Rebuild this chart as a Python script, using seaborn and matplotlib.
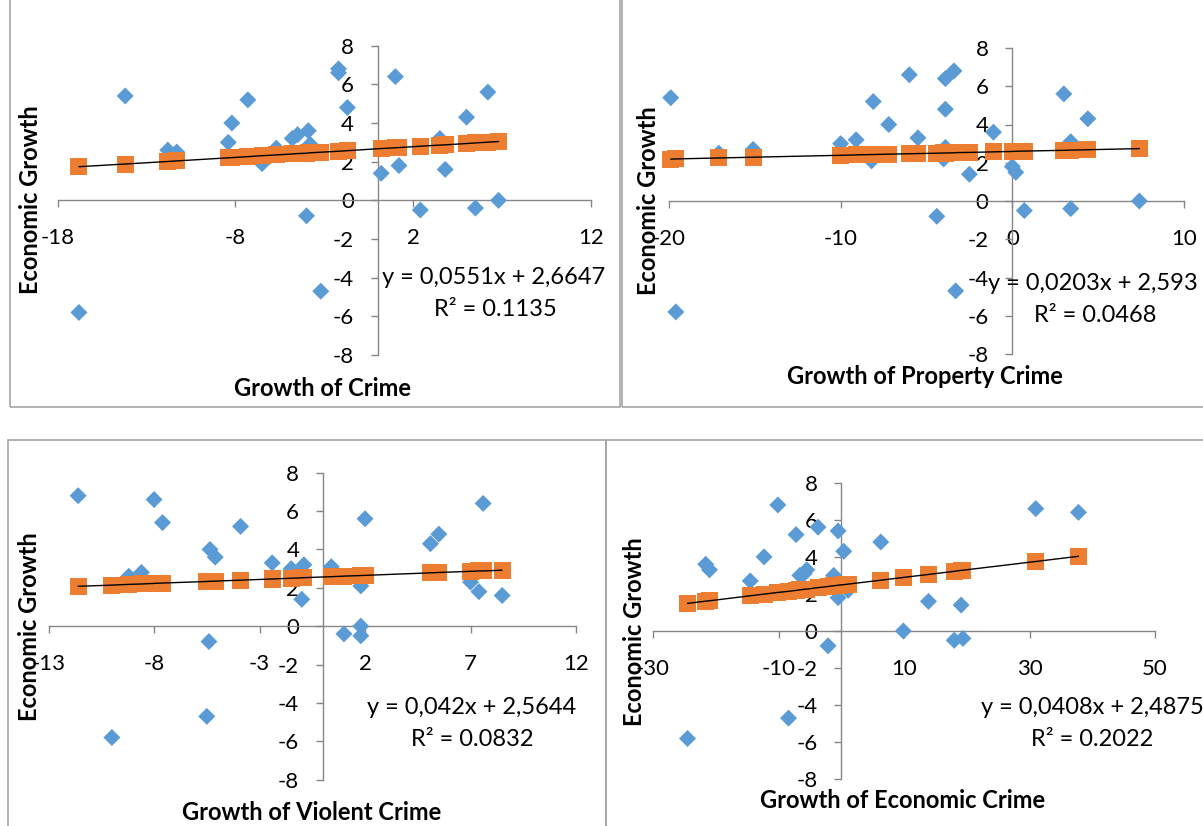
import matplotlib
matplotlib.use('Agg')
import matplotlib.pyplot as plt
import seaborn as sns
from matplotlib.patches import Rectangle

sns.set_theme(style='white')
plt.rcParams['font.family'] = ['Lato', 'DejaVu Sans']

# ---------------- data ----------------
# Panel 1: Growth of Crime
crime_x = [-16.8, -14.2, -11.8, -11.3, -8.4, -8.2, -7.3, -6.5, -5.7, -4.8, -4.5, -3.9, -3.8, -4.0,
           -3.2, -2.2, -2.2, -1.7, 0.2, 1.0, 1.2, 2.4, 3.5, 3.8, 5.0, 5.5, 6.2, 6.8]
crime_y = [-5.8, 5.4, 2.6, 2.5, 3.0, 4.0, 5.2, 1.9, 2.7, 3.2, 3.4, 3.6, 2.9, -0.8,
           -4.7, 6.8, 6.6, 4.8, 1.4, 6.4, 1.8, -0.5, 3.2, 1.6, 4.3, -0.4, 5.6, 0.0]
crime_fit = [1.74, 1.88, 2.01, 2.04, 2.20, 2.21, 2.26, 2.31, 2.35, 2.40, 2.42, 2.45, 2.46, 2.44,
             2.49, 2.54, 2.54, 2.57, 2.68, 2.72, 2.73, 2.80, 2.86, 2.87, 2.94, 2.97, 3.01, 3.04]
crime_ticks = [-18, -8, 2, 12]

# Panel 2: Growth of Property Crime
prop_x = [-19.9, -19.6, -17.1, -15.1, -10.0, -9.1, -8.2, -8.1, -7.2, -6.0, -5.5, -4.4, -4.0, -3.9,
          -3.9, -3.9, -3.4, -3.3, -2.5, -1.1, 0.0, 0.2, 0.7, 3.0, 3.4, 3.4, 4.4, 7.4]
prop_y = [5.4, -5.8, 2.5, 2.7, 3.0, 3.2, 2.1, 5.2, 4.0, 6.6, 3.3, -0.8, 2.2, 2.8,
          4.8, 6.4, 6.8, -4.7, 1.4, 3.6, 1.8, 1.5, -0.5, 5.6, -0.4, 3.1, 4.3, 0.0]
prop_fit = [2.19, 2.20, 2.25, 2.29, 2.39, 2.41, 2.43, 2.43, 2.45, 2.47, 2.48, 2.50, 2.51, 2.51,
            2.51, 2.51, 2.52, 2.53, 2.54, 2.57, 2.59, 2.60, 2.61, 2.65, 2.66, 2.66, 2.68, 2.74]
prop_ticks = [-20, -10, 0, 10]

# Panel 3: Growth of Violent Crime
viol_x = [-11.6, -10.0, -9.2, -8.6, -8.0, -7.6, -5.35, -5.1, -5.4, -5.5, -3.9, -2.4, -1.5, -0.9,
          -1.0, 0.4, 1.0, 1.8, 1.8, 1.8, 2.0, 5.1, 5.5, 7.0, 7.4, 7.6, 8.5]
viol_y = [6.8, -5.8, 2.6, 2.8, 6.6, 5.4, 4.0, 3.6, -0.8, -4.7, 5.2, 3.3, 3.0, 3.2,
          1.4, 3.1, -0.4, -0.5, 0.0, 2.1, 5.6, 4.3, 4.8, 2.3, 1.8, 6.4, 1.6]
viol_fit = [2.08, 2.14, 2.18, 2.20, 2.23, 2.25, 2.34, 2.35, 2.34, 2.33, 2.40, 2.46, 2.50, 2.53,
            2.52, 2.58, 2.61, 2.64, 2.64, 2.64, 2.65, 2.78, 2.80, 2.86, 2.88, 2.88, 2.92]
viol_ticks = [-13, -8, -3, 2, 7, 12]

# Panel 4: Growth of Economic Crime
econ_x = [-24.5, -21.6, -21.0, -14.5, -12.3, -10.1, -8.4, -7.2, -6.6, -5.9, -5.5, -3.7, -2.1,
          -1.2, -0.5, -0.5, 0.4, 1.1, 6.3, 9.9, 13.9, 18.0, 19.1, 19.4, 31.0, 37.8]
econ_y = [-5.8, 3.6, 3.3, 2.7, 4.0, 6.8, -4.7, 5.2, 3.0, 3.1, 3.3, 5.6, -0.8,
          3.0, 5.4, 1.8, 4.3, 2.2, 4.8, 0.0, 1.6, -0.5, 1.4, -0.4, 6.6, 6.4]
econ_fit = [1.49, 1.61, 1.63, 1.90, 1.99, 2.08, 2.14, 2.19, 2.22, 2.25, 2.26, 2.34, 2.40,
            2.44, 2.47, 2.47, 2.50, 2.53, 2.74, 2.89, 3.05, 3.22, 3.27, 3.28, 3.75, 4.03]
econ_ticks = [-30, -10, 10, 30, 50]

y_ticks = [-8, -6, -4, -2, 0, 2, 4, 6, 8]
y_label = 'Economic Growth'
x_labels = ['Growth of Crime', 'Growth of Property Crime',
            'Growth of Violent Crime', 'Growth of Economic Crime']
equations = ['y = 0,0551x + 2,6647', 'y = 0,0203x + 2,593',
             'y = 0,042x + 2,5644', 'y = 0,0408x + 2,4875']
r_squared = ['R² = 0.1135', 'R² = 0.0468', 'R² = 0.0832', 'R² = 0.2022']

# ---------------- layout (pixels) ----------------
W, H = 1203, 826
fig = plt.figure(figsize=(W / 100, H / 100), dpi=100)


def fx(px):
    return px / W


def fy(py):
    return 1 - py / H


BLUE = '#5B9BD5'
ORANGE = '#ED7D31'
AXIS = '#868686'
FRAME = '#A6A6A6'

panels = [
    dict(x=crime_x, y=crime_y, f=crime_fit, ticks=crime_ticks,
         box=(57.6, 591, 45.7, 355), frame=(10, 620, -2, 407),
         ylab=(31, 200), xlab=(323, 388), eq=(494, 278), r2=(495, 310)),
    dict(x=prop_x, y=prop_y, f=prop_fit, ticks=prop_ticks,
         box=(669, 1184, 48, 354), frame=(622, 1205, -2, 407),
         ylab=(649, 201), xlab=(925, 377), eq=(1093, 284), r2=(1095, 316)),
    dict(x=viol_x, y=viol_y, f=viol_fit, ticks=viol_ticks,
         box=(48.6, 576, 472.7, 779.7), frame=(8, 606, 440, 828),
         ylab=(30, 627), xlab=(312, 813), eq=(472, 708), r2=(472, 739)),
    dict(x=econ_x, y=econ_y, f=econ_fit, ticks=econ_ticks,
         box=(653, 1155, 482.7, 779.3), frame=(606, 1205, 440, 828),
         ylab=(634, 632), xlab=(903, 801), eq=(1092, 708), r2=(1092, 739)),
]

for i, p in enumerate(panels):
    l, r, t, b = p['frame']
    fig.add_artist(Rectangle((fx(l), fy(b)), (r - l) / W, (b - t) / H,
                             transform=fig.transFigure, fill=False,
                             edgecolor=FRAME, lw=1.2, zorder=0))

    x0, x1, y0, y1 = p['box']
    ax = fig.add_axes([fx(x0), fy(y1), (x1 - x0) / W, (y1 - y0) / H])
    ax.patch.set_visible(False)

    sns.scatterplot(x=p['x'], y=p['y'], marker='D', s=75, color=BLUE,
                    edgecolor='none', linewidth=0, ax=ax, zorder=3,
                    clip_on=False, legend=False)
    sns.scatterplot(x=p['x'], y=p['f'], marker='s', s=150, color=ORANGE,
                    edgecolor='none', linewidth=0, ax=ax, zorder=4,
                    clip_on=False, legend=False)
    sns.lineplot(x=p['x'], y=p['f'], color='black', lw=1, ax=ax, zorder=5,
                 estimator=None, sort=True, errorbar=None)

    ticks = p['ticks']
    ax.set_xlim(ticks[0], ticks[-1])
    ax.set_ylim(y_ticks[0], y_ticks[-1])
    ax.set_xticks(ticks)
    ax.set_yticks(y_ticks)
    ax.set_xticklabels([str(v) for v in ticks])
    ax.set_yticklabels([str(v) for v in y_ticks])
    ax.set_xlabel('')
    ax.set_ylabel('')

    for s in ['top', 'right']:
        ax.spines[s].set_visible(False)
    for s in ['left', 'bottom']:
        ax.spines[s].set_position(('data', 0))
        ax.spines[s].set_color(AXIS)
        ax.spines[s].set_linewidth(1)
        ax.spines[s].set_zorder(1)
    ax.tick_params(axis='both', which='major', direction='out', length=5,
                   width=1, color=AXIS, labelsize=16, labelcolor='black',
                   bottom=True, left=True)
    ax.tick_params(axis='x', pad=15)
    ax.tick_params(axis='y', pad=12)

    fig.text(fx(p['ylab'][0]), fy(p['ylab'][1]), y_label, rotation=90,
             ha='center', va='center', fontsize=17, fontweight='bold',
             color='black', zorder=10)
    fig.text(fx(p['xlab'][0]), fy(p['xlab'][1]), x_labels[i],
             ha='center', va='center', fontsize=17, fontweight='bold',
             color='black', zorder=10)
    fig.text(fx(p['eq'][0]), fy(p['eq'][1]), equations[i],
             ha='center', va='center', fontsize=17, color='black', zorder=10)
    fig.text(fx(p['r2'][0]), fy(p['r2'][1]), r_squared[i],
             ha='center', va='center', fontsize=17, color='black', zorder=10)

fig.savefig('out.png', dpi=100, facecolor='white')
